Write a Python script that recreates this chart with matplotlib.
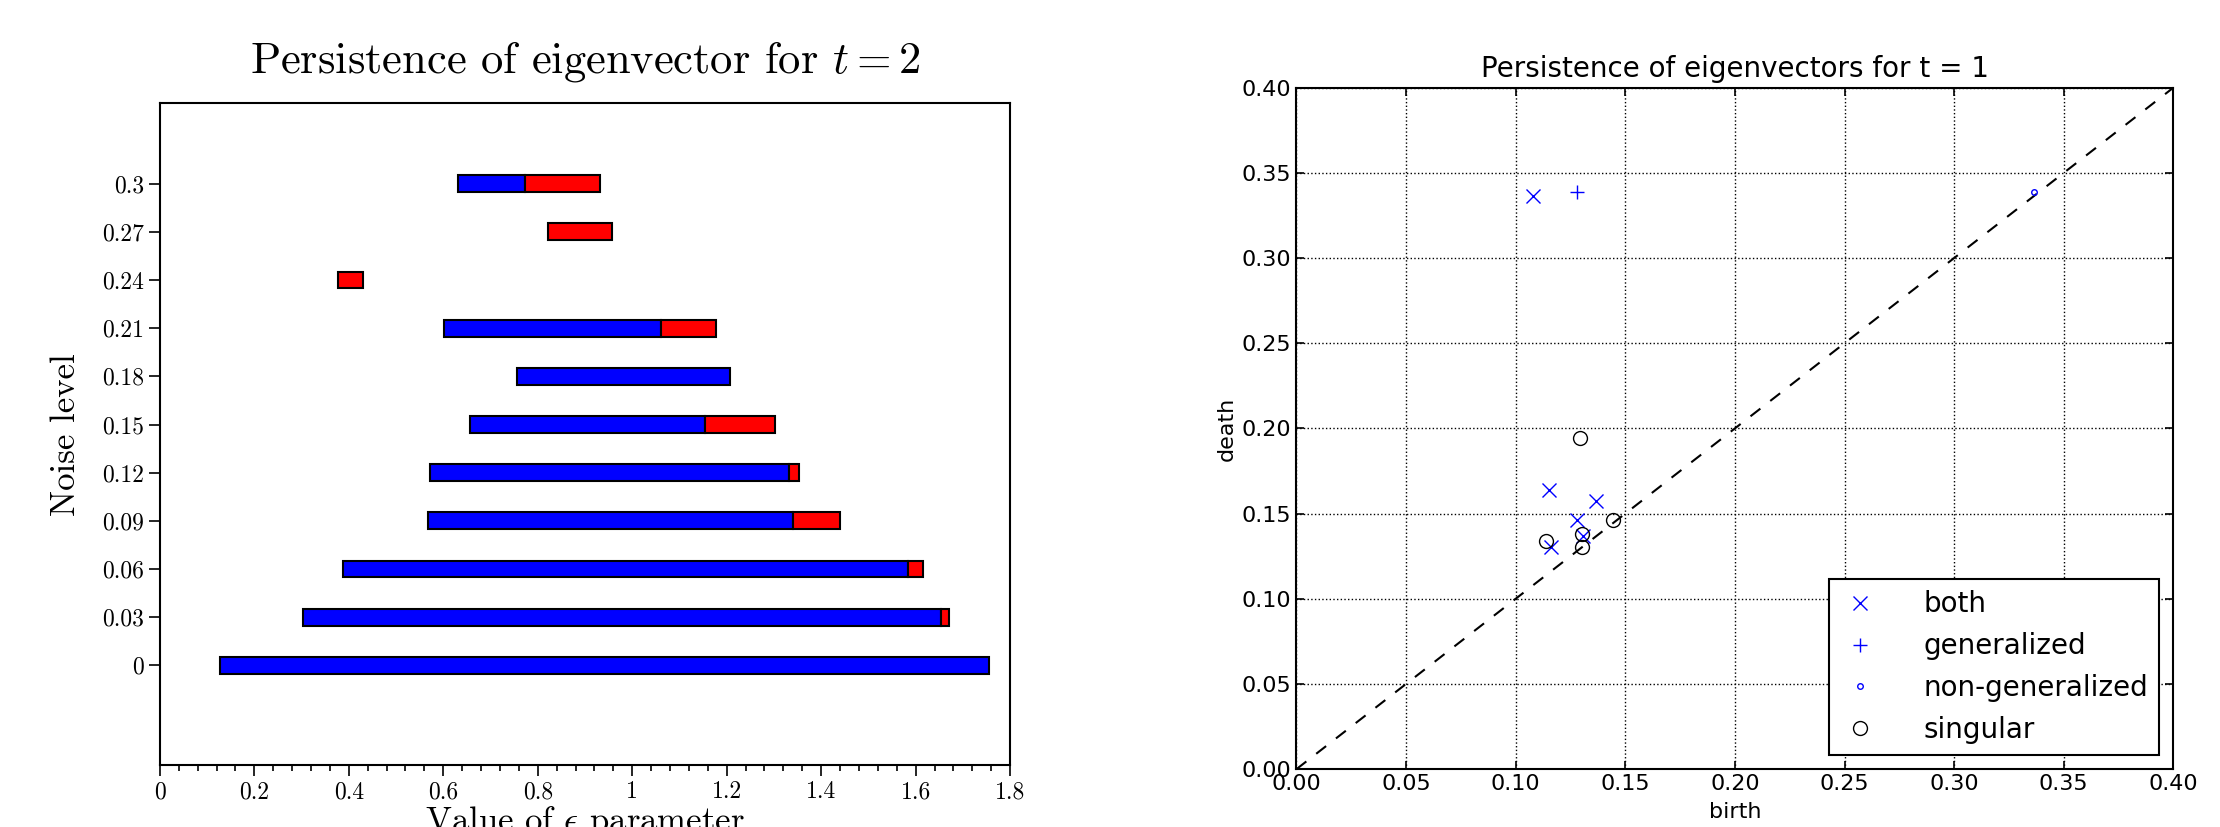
import numpy as np
import matplotlib
matplotlib.use("Agg")
import matplotlib.pyplot as plt

# left panel: bars per noise level (blue part then red part), nan = missing
noise = [0, 0.03, 0.06, 0.09, 0.12, 0.15, 0.18, 0.21, 0.24, 0.27, 0.3]
noise_labels = ["0", "0.03", "0.06", "0.09", "0.12", "0.15", "0.18", "0.21", "0.24", "0.27", "0.3"]
blue_lo = [0.127, 0.304, 0.388, 0.568, 0.571, 0.657, 0.757, 0.602, np.nan, np.nan, 0.632]
blue_hi = [1.756, 1.654, 1.584, 1.341, 1.332, 1.155, 1.206, 1.061, np.nan, np.nan, 0.772]
red_lo = [np.nan, 1.654, 1.584, 1.341, 1.332, 1.155, np.nan, 1.061, 0.378, 0.822, 0.772]
red_hi = [np.nan, 1.670, 1.615, 1.440, 1.354, 1.303, np.nan, 1.177, 0.430, 0.958, 0.931]
eps_ticks = [0, 0.2, 0.4, 0.6, 0.8, 1.0, 1.2, 1.4, 1.6, 1.8]
eps_labels = ["0", "0.2", "0.4", "0.6", "0.8", "1", "1.2", "1.4", "1.6", "1.8"]

# right panel: persistence diagram
both_b = [0.108, 0.1154, 0.1364, 0.1278, 0.1307, 0.1159]
both_d = [0.3365, 0.1641, 0.1572, 0.1465, 0.1371, 0.1302]
gen_b = [0.128]
gen_d = [0.3388]
nongen_b = [0.3363]
nongen_d = [0.3388]
sing_b = [0.1295, 0.1138, 0.1301, 0.1303, 0.1445]
sing_d = [0.1943, 0.1337, 0.1380, 0.1306, 0.1465]
diag_ticks = [0.0, 0.05, 0.10, 0.15, 0.20, 0.25, 0.30, 0.35, 0.40]

plt.rcParams["mathtext.fontset"] = "cm"

fig = plt.figure(figsize=(22.2, 8.27), dpi=100)
fig.patch.set_facecolor("white")

# ---- left ----
ax1 = fig.add_axes([0.072, 0.075, 0.383, 0.8])
cm = {"family": "cmr10"}
for i in range(len(noise)):
    if not np.isnan(blue_lo[i]):
        ax1.barh(noise[i], blue_hi[i] - blue_lo[i], left=blue_lo[i], height=0.0105,
                 color="#0000ff", edgecolor="black", linewidth=1.5)
    if not np.isnan(red_lo[i]):
        ax1.barh(noise[i], red_hi[i] - red_lo[i], left=red_lo[i], height=0.0105,
                 color="#ff0000", edgecolor="black", linewidth=1.5)
ax1.set_xlim(0, 1.8)
ax1.set_ylim(-0.062, 0.35)
ax1.set_yticks(noise)
ax1.set_yticklabels(noise_labels, fontdict=cm, fontsize=17)
ax1.set_xticks(eps_ticks)
ax1.set_xticklabels(eps_labels, fontdict=cm, fontsize=17)
ax1.set_xticks(np.arange(0, 1.81, 0.04), minor=True)
ax1.tick_params(axis="x", which="major", length=8, width=1.2)
ax1.tick_params(axis="x", which="minor", length=4, width=1.2)
ax1.tick_params(axis="y", length=8, width=1.2)
ax1.tick_params(top=False, right=False)
for s in ax1.spines.values():
    s.set_linewidth(1.5)
ax1.set_title("Persistence of eigenvector for $t = 2$", fontdict=cm, fontsize=32, pad=22)
ax1.set_ylabel("Noise level", fontdict=cm, fontsize=25, labelpad=14)
ax1.set_xlabel(r"Value of $\epsilon$ parameter", fontdict=cm, fontsize=25, labelpad=1)

# ---- right ----
ax2 = fig.add_axes([0.584, 0.070, 0.395, 0.824])
ax2.plot([0, 0.4], [0, 0.4], "k--", linewidth=1.5, dashes=(6, 6))
ax2.plot(both_b, both_d, "x", color="blue", markersize=10, markeredgewidth=1.0,
         linestyle="none", label="both")
ax2.plot(gen_b, gen_d, "+", color="blue", markersize=10, markeredgewidth=1.0,
         linestyle="none", label="generalized")
ax2.plot(nongen_b, nongen_d, "o", markerfacecolor="none", markeredgecolor="blue",
         markersize=4, markeredgewidth=1.0, linestyle="none", label="non-generalized")
ax2.plot(sing_b, sing_d, "o", markerfacecolor="none", markeredgecolor="black",
         markersize=10, markeredgewidth=1.0, linestyle="none", label="singular")
ax2.set_xlim(0, 0.4)
ax2.set_ylim(0, 0.4)
ax2.set_xticks(diag_ticks)
ax2.set_yticks(diag_ticks)
ax2.set_xticklabels(["%.2f" % v for v in diag_ticks])
ax2.set_yticklabels(["%.2f" % v for v in diag_ticks])
ax2.tick_params(direction="in", length=6, width=1.2, labelsize=16, top=True, right=True)
ax2.grid(True, linestyle=":", color="black", linewidth=1.0)
for s in ax2.spines.values():
    s.set_linewidth(1.5)
ax2.set_title("Persistence of eigenvectors for t = 1", fontsize=20, pad=8)
ax2.set_xlabel("birth", fontsize=16, labelpad=6)
ax2.set_ylabel("death", fontsize=16)
leg = ax2.legend(loc="lower right", numpoints=1, fontsize=20, fancybox=False,
                 framealpha=1, edgecolor="black", borderaxespad=0.5,
                 handlelength=1.4, handletextpad=1.6)
leg.get_frame().set_linewidth(1.5)

fig.savefig("out.png", dpi=100, facecolor="white")
